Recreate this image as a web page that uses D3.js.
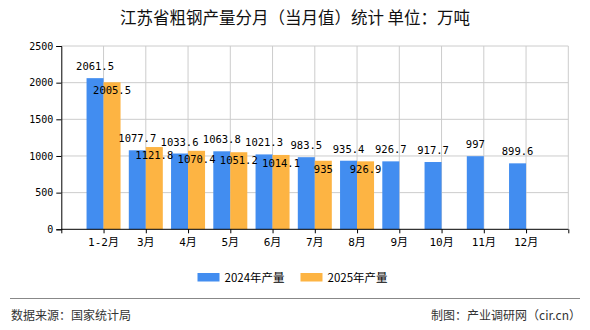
<!DOCTYPE html>
<html><head><meta charset="utf-8">
<script src="https://cdn.jsdelivr.net/npm/d3@7/dist/d3.min.js"></script>
<style>body{margin:0;background:#fff}svg{display:block}</style>
</head><body><svg id="c" width="590" height="330"></svg>
<script>
const categories = ["1-2月","3月","4月","5月","6月","7月","8月","9月","10月","11月","12月"];
const values2024 = [2061.5,1077.7,1033.6,1063.8,1021.3,983.5,935.4,926.7,917.7,997,899.6];
const values2025 = [2005.5,1121.8,1070.4,1051.2,1014.1,935,926.9,null,null,null,null];
const yTicks = [0,500,1000,1500,2000,2500];
const seriesNames = ["2024年产量","2025年产量"];
const colors = ["#428df0","#fdb443"];

const svg = d3.select("#c");
const L = 61.3, R = 568.3, T = 46, B = 229.3;
const x = d3.scaleLinear().domain([0, categories.length + 1]).range([L, R]);
const y = d3.scaleLinear().domain([0, 2500]).range([B, T]);
const bw = 17;
const mono = "'DejaVu Sans Mono','Noto Sans CJK SC',monospace";

svg.append("text").attr("x", 295).attr("y", 24).attr("text-anchor","middle")
  .attr("font-family","'Noto Sans CJK SC',sans-serif").attr("font-size",16.5).attr("fill","#111")
  .text("江苏省粗钢产量分月（当月值）统计 单位：万吨");

// grid
const g = svg.append("g");
g.selectAll(".hg").data(yTicks.slice(1)).enter().append("line")
  .attr("x1", L).attr("x2", R).attr("y1", d=>y(d)).attr("y2", d=>y(d))
  .attr("stroke","#cccccc").attr("stroke-width",1);
g.selectAll(".vg").data(d3.range(1, categories.length + 2)).enter().append("line")
  .attr("x1", d=>x(d)).attr("x2", d=>x(d)).attr("y1", T).attr("y2", B)
  .attr("stroke","#cccccc").attr("stroke-width",1);

// bars
categories.forEach((c,i)=>{
  const cx = x(i+1);
  svg.append("rect").attr("x", cx - bw).attr("width", bw)
    .attr("y", y(values2024[i])).attr("height", B - y(values2024[i])).attr("fill", colors[0]);
  if (values2025[i] != null) {
    svg.append("rect").attr("x", cx).attr("width", bw)
      .attr("y", y(values2025[i])).attr("height", B - y(values2025[i])).attr("fill", colors[1]);
  }
});

// axes
const yAxis = d3.axisLeft(y).tickValues(yTicks).tickSize(5).tickPadding(3).tickFormat(d3.format("d"));
const ya = svg.append("g").attr("transform",`translate(${L},0)`).call(yAxis);
ya.select(".domain").attr("stroke","#000");
ya.selectAll(".tick line").attr("stroke","#000");
ya.selectAll("text").attr("font-family",mono).attr("font-size",10).attr("fill","#000");

const xAxis = d3.axisBottom(x).tickValues(d3.range(0, categories.length + 2)).tickSize(4).tickFormat("");
const xa = svg.append("g").attr("transform",`translate(0,${B})`).call(xAxis);
xa.select(".domain").attr("stroke","#000").attr("d", `M${L},0H${R}`);
xa.selectAll(".tick line").attr("stroke","#000");

svg.selectAll(".xl").data(categories).enter().append("text")
  .attr("x",(d,i)=>x(i+1)).attr("y", B + 17).attr("text-anchor","middle")
  .attr("font-family",mono).attr("font-size",11).attr("fill","#000").text(d=>d);

// value labels
categories.forEach((c,i)=>{
  const cx = x(i+1);
  svg.append("text").attr("x", cx - bw/2).attr("y", y(values2024[i]) - 8)
    .attr("text-anchor","middle").attr("font-family",mono).attr("font-size",10.5).attr("fill","#000")
    .text(values2024[i]);
  if (values2025[i] != null) {
    svg.append("text").attr("x", cx + bw/2).attr("y", y(values2025[i]) + 12)
      .attr("text-anchor","middle").attr("font-family",mono).attr("font-size",10.5).attr("fill","#000")
      .text(values2025[i]);
  }
});

// legend
const lx = [197.5, 300.5];
seriesNames.forEach((n,i)=>{
  svg.append("rect").attr("x", lx[i]).attr("y", 273).attr("width", 22).attr("height", 8.5).attr("fill", colors[i]);
  svg.append("text").attr("x", lx[i] + 27).attr("y", 282).attr("font-family","'Noto Sans CJK SC',sans-serif")
    .attr("font-size",11.5).attr("fill","#000").text(n);
});

// footer
svg.append("line").attr("x1",10).attr("x2",580).attr("y1",298.5).attr("y2",298.5).attr("stroke","#888").attr("stroke-width",1);
svg.append("text").attr("x",11).attr("y",320).attr("font-family","'Noto Sans CJK SC',sans-serif")
  .attr("font-size",12).attr("fill","#333").text("数据来源：国家统计局");
svg.append("text").attr("x",581).attr("y",320).attr("text-anchor","end").attr("font-family","'Noto Sans CJK SC',sans-serif")
  .attr("font-size",12).attr("fill","#333").text("制图：产业调研网（cir.cn）");
</script></body></html>
